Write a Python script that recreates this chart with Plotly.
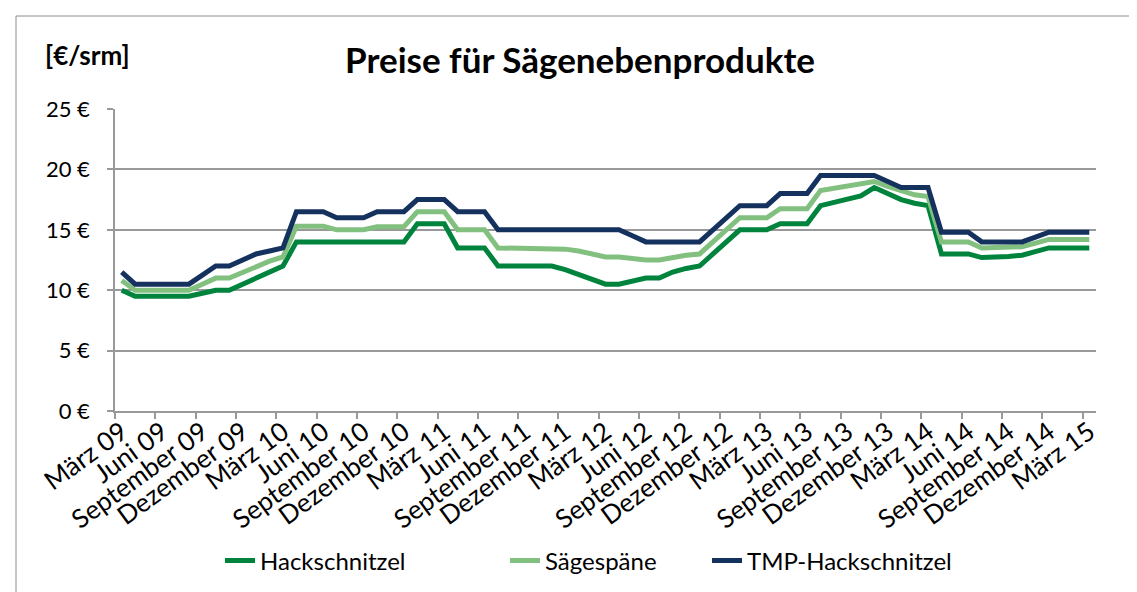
import plotly.graph_objects as go

# ---- data (monthly, März 09 .. März 15) ----
tick_labels = ["März 09", "Juni 09", "September 09", "Dezember 09",
               "März 10", "Juni 10", "September 10", "Dezember 10",
               "März 11", "Juni 11", "September 11", "Dezember 11",
               "März 12", "Juni 12", "September 12", "Dezember 12",
               "März 13", "Juni 13", "September 13", "Dezember 13",
               "März 14", "Juni 14", "September 14", "Dezember 14",
               "März 15"]

y_tick_values = [0, 5, 10, 15, 20, 25]
y_tick_labels = ["0 €", "5 €", "10 €", "15 €", "20 €", "25 €"]

hackschnitzel = [10.0, 9.5, 9.5, 9.5, 9.5, 9.5, 9.75, 10.0, 10.0, 10.5, 11.0, 11.5, 12.0,
                 14.0, 14.0, 14.0, 14.0, 14.0, 14.0, 14.0, 14.0, 14.0,
                 15.5, 15.5, 15.5, 13.5, 13.5, 13.5,
                 12.0, 12.0, 12.0, 12.0, 12.0,
                 11.7, 11.3, 11.0, 10.5, 10.5, 10.8, 11.0, 11.0, 11.5, 11.8, 12.0,
                 13.0, 14.0, 15.0, 15.0, 15.0, 15.5, 15.5, 15.5,
                 17.0, 17.25, 17.5, 17.8, 18.5, 18.0, 17.5, 17.2, 17.0,
                 13.0, 13.0, 13.0, 12.7, 12.7, 12.8, 12.9, 13.2, 13.5, 13.5, 13.5, 13.5]

saegespaene = [10.8, 10.0, 10.0, 10.0, 10.0, 10.0, 10.5, 11.0, 11.0, 11.5, 12.0, 12.4, 12.75,
               15.3, 15.3, 15.3, 15.0, 15.0, 15.0, 15.25, 15.25, 15.25,
               16.5, 16.5, 16.5, 15.0, 15.0, 15.0,
               13.5, 13.5, 13.5, 13.5, 13.5,
               13.4, 13.25, 13.0, 12.75, 12.75, 12.6, 12.5, 12.5, 12.75, 12.9, 13.0,
               14.0, 15.0, 16.0, 16.0, 16.0, 16.75, 16.75, 16.75,
               18.25, 18.45, 18.6, 18.8, 19.0, 18.6, 18.2, 17.9, 17.75,
               14.0, 14.0, 14.0, 13.5, 13.5, 13.5, 13.6, 13.9, 14.2, 14.2, 14.2, 14.2]

tmp_hackschnitzel = [11.5, 10.5, 10.5, 10.5, 10.5, 10.5, 11.25, 12.0, 12.0, 12.5, 13.0, 13.25, 13.5,
                     16.5, 16.5, 16.5, 16.0, 16.0, 16.0, 16.5, 16.5, 16.5,
                     17.5, 17.5, 17.5, 16.5, 16.5, 16.5,
                     15.0, 15.0, 15.0, 15.0, 15.0, 15.0, 15.0, 15.0, 15.0, 15.0,
                     14.5, 14.0, 14.0, 14.0, 14.0, 14.0,
                     15.0, 16.0, 17.0, 17.0, 17.0, 18.0, 18.0, 18.0,
                     19.5, 19.5, 19.5, 19.5, 19.5, 19.0, 18.5, 18.5, 18.5,
                     14.8, 14.8, 14.8, 14.0, 14.0, 14.0, 14.0, 14.4, 14.8, 14.8, 14.8, 14.8]

series_names = ["Hackschnitzel", "Sägespäne", "TMP-Hackschnitzel"]
series_colors = ["#00843D", "#82C07F", "#15325F"]

months = list(range(len(hackschnitzel)))
label_positions = months[::3]

FONT = "Lato, 'Open Sans', sans-serif"
GRID = "#999999"

fig = go.Figure()
legends = ["legend", "legend2", "legend3"]
for name, vals, col, lg in zip(series_names,
                               [hackschnitzel, saegespaene, tmp_hackschnitzel],
                               series_colors, legends):
    fig.add_trace(go.Scatter(x=months, y=vals, mode="lines", name=name,
                             line=dict(color=col, width=5), legend=lg, showlegend=True))

legend_common = dict(orientation="h", yanchor="middle", y=(403 - 553) / 302, xanchor="left",
                     font=dict(family=FONT, size=24, color="#000"),
                     bgcolor="rgba(0,0,0,0)")
fig.update_layout(
    width=1137, height=592,
    margin=dict(l=107, r=49, t=101, b=189, autoexpand=False),
    paper_bgcolor="white", plot_bgcolor="white",
    showlegend=True,
    title=dict(text="<b>Preise für Sägenebenprodukte</b>", x=(572 - 107) / 981, xref="paper",
               xanchor="center", y=1 - 53 / 592, yref="container", yanchor="middle",
               font=dict(family=FONT, size=35, color="#000"), automargin=False),
    legend=dict(x=(212 - 107) / 981, **legend_common),
    legend2=dict(x=(497 - 107) / 981, **legend_common),
    legend3=dict(x=(699 - 107) / 981, **legend_common),
    xaxis=dict(range=[-0.5, len(months) - 0.5], tickmode="array",
               tickvals=label_positions, ticktext=tick_labels, ticks="",
               tickangle=-36, tickfont=dict(family=FONT, size=26, color="#000"),
               ticklabelstandoff=-6, automargin=False,
               showgrid=False, zeroline=False, showline=True, linecolor=GRID, linewidth=1.5,
               minor=dict(tickmode="linear", tick0=-0.5, dtick=3, ticks="outside",
                          ticklen=6, tickcolor=GRID, tickwidth=1.5, showgrid=False)),
    yaxis=dict(range=[0, 25], tickmode="array", tickvals=y_tick_values, ticktext=y_tick_labels,
               ticks="outside", ticklen=6, tickcolor=GRID, tickwidth=1.5,
               ticklabelstandoff=13, automargin=False,
               tickfont=dict(family=FONT, size=22, color="#000"),
               showgrid=True, gridcolor=GRID, gridwidth=1.5, zeroline=False,
               showline=True, linecolor=GRID, linewidth=1.5),
    annotations=[dict(text="<b>[€/srm]</b>", xref="paper", yref="paper",
                      x=(35 - 107) / 981, y=(403 - 47) / 302, xanchor="left",
                      yanchor="middle", showarrow=False,
                      font=dict(family=FONT, size=26, color="#000"))],
    shapes=[dict(type="rect", xref="paper", yref="paper",
                 x0=(8 - 107) / 981, x1=(1130 - 107) / 981,
                 y0=(403 - 600) / 302, y1=(403 - 8) / 302,
                 line=dict(color="#8C8C8C", width=1))],
)

fig.write_html("out.html")
